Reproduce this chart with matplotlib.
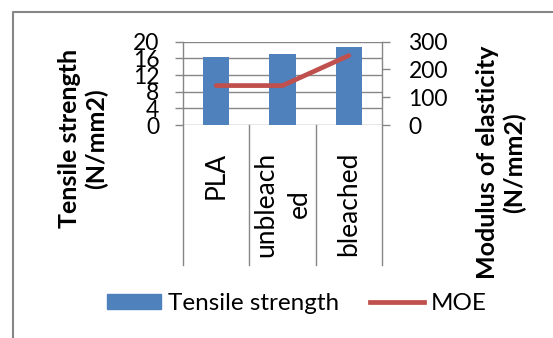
import matplotlib
matplotlib.use("Agg")
import matplotlib.pyplot as plt
from matplotlib.lines import Line2D
from matplotlib.patches import Patch
import matplotlib.transforms as mtransforms

# data
categories = ["PLA", "unbleach\ned", "bleached"]
tensile = [16.4, 17.0, 18.7]        # N/mm2, left axis
moe = [142, 142, 250]               # N/mm2, right axis
left_ticks = [0, 4, 8, 12, 16, 20]
right_ticks = [0, 100, 200, 300]

BLUE = "#4F81BD"
RED = "#C0504D"
GRID = "#868686"
CAL = ["Lato", "DejaVu Sans"]

W, H = 553, 338
fig = plt.figure(figsize=(W / 100, H / 100), dpi=100)

# plot area in pixels: x 183..382, y 41.7..125
x0, x1, ytop, ybot = 183, 382, 41.7, 125
ax = fig.add_axes([x0 / W, (H - ybot) / H, (x1 - x0) / W, (ybot - ytop) / H])
ax2 = ax.twinx()

xs = list(range(len(categories)))
ax.bar(xs, tensile, width=0.4, color=BLUE, zorder=3)
ax.set_xlim(-0.5, len(categories) - 0.5)
ax.set_ylim(0, 20)
ax.set_yticks(left_ticks)
ax.yaxis.grid(True, color=GRID, lw=1.0, zorder=0)
ax.set_axisbelow(True)

ax2.plot(xs, moe, color=RED, lw=3.4, solid_capstyle="round", zorder=4)
ax2.set_ylim(0, 300)
ax2.set_yticks(right_ticks)

for a in (ax, ax2):
    for s in a.spines.values():
        s.set_visible(False)

ax.tick_params(axis="y", direction="out", length=6, width=1.0, color=GRID,
               pad=11, labelsize=16.5)
ax2.tick_params(axis="y", direction="out", length=6, width=1.0, color=GRID,
                pad=13, labelsize=16.5)
for lab in ax.get_yticklabels() + ax2.get_yticklabels():
    lab.set_family(CAL)

ax.set_xticks(xs)
ax.set_xticklabels(categories, rotation=90, fontsize=19, family=CAL,
                   multialignment="center", linespacing=1.4)
ax.tick_params(axis="x", length=0, pad=19)

# category separators hanging below the axis, plus the two side spines
trans = mtransforms.blended_transform_factory(ax.transData, ax.transAxes)
low = -(265 - ybot) / (ybot - ytop)
for i, xv in enumerate([-0.5, 0.5, 1.5, 2.5]):
    top = 1.0 if i in (0, 3) else 0.0
    ax.add_line(Line2D([xv, xv], [low, top], transform=trans, color=GRID,
                       lw=1.0, clip_on=False, zorder=5))

# axis titles
fig.text(83 / W, 1 - 138.5 / H, "Tensile strength\n(N/mm2)", rotation=90,
         ha="center", va="center", fontsize=18, fontweight="bold", family=CAL,
         multialignment="center", linespacing=1.2)
fig.text(501 / W, 1 - 162.5 / H, "Modulus of elasticity\n(N/mm2)", rotation=90,
         ha="center", va="center", fontsize=18, fontweight="bold", family=CAL,
         multialignment="center", linespacing=1.2)

handles = [Patch(color=BLUE, label="Tensile strength"),
           Line2D([], [], color=RED, lw=3.4, label="MOE")]
fig.legend(handles=handles, loc="center", bbox_to_anchor=(297 / W, 1 - 303.5 / H),
           ncol=2, frameon=False, prop={"family": CAL, "size": 17.5},
           handlelength=2.2, handleheight=0.62, handletextpad=0.29,
           columnspacing=1.28, borderpad=0.2)

# outer chart frame, cut off at the right and bottom edges
fig.add_artist(Line2D([13 / W, 13 / W, 1.0], [0.0, 1 - 12 / H, 1 - 12 / H],
                      transform=fig.transFigure, color=GRID, lw=1.5))

fig.savefig("out.png", dpi=100)
